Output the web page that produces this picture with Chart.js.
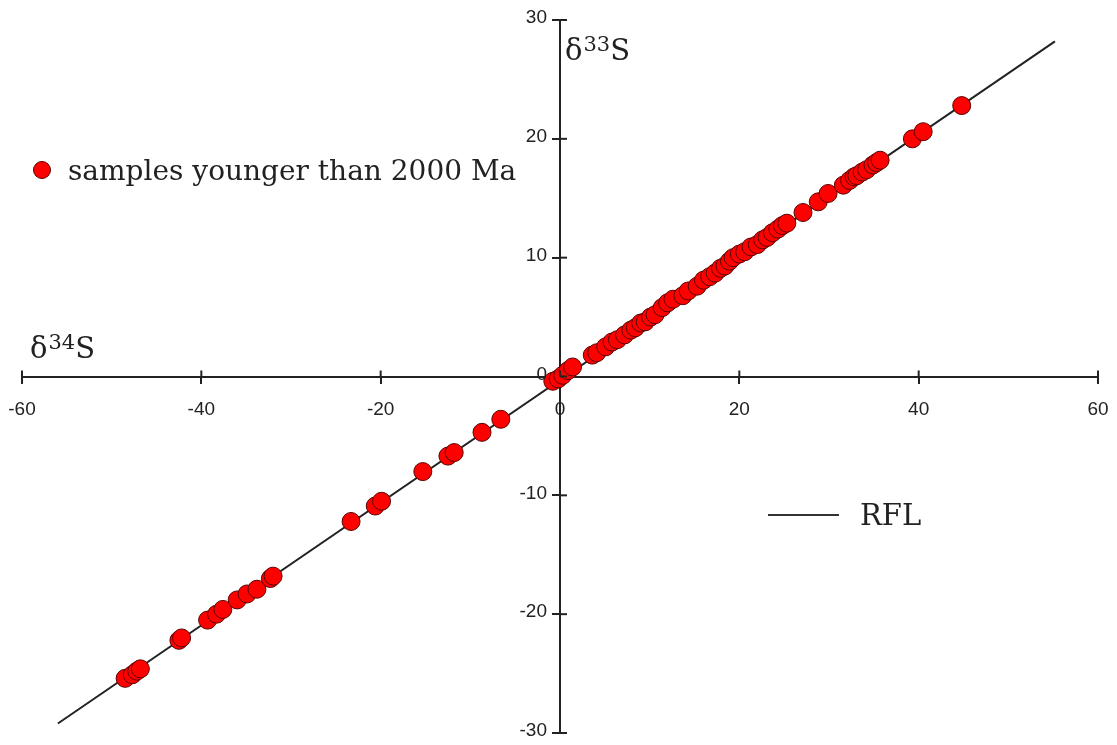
<!DOCTYPE html>
<html>
<head>
<meta charset="utf-8">
<script src="https://cdn.jsdelivr.net/npm/chart.js@4"></script>
<style>
  html, body { margin: 0; padding: 0; background: #fff; }
  #wrap { width: 1117px; height: 745px; position: relative; }
</style>
</head>
<body>
<div id="wrap"><canvas id="myChart"></canvas></div>
<script>
const xTicks = [-60, -40, -20, 0, 20, 40, 60];
const yTicks = [-30, -20, -10, 0, 10, 20, 30];

// δ34S / δ33S of samples younger than 2000 Ma
const sampleX = [
  -48.5, -47.7, -47.2, -46.8, -42.5, -42.2, -39.3, -38.3, -37.6, -36.0, -34.9, -33.8, -32.3, -32.0,
  -23.3, -20.6, -19.9, -15.3, -12.5, -11.8, -8.7, -6.6, -0.8, -0.2,
  0.3, 0.9, 1.4, 3.6, 4.1, 5.1, 5.8, 6.4, 7.2, 7.9, 8.4, 9.0, 9.5, 10.1, 10.6, 11.4, 12.0, 12.6,
  13.7, 14.3, 15.3, 16.0, 16.7, 17.3, 17.9, 18.4, 18.9, 19.3, 20.0, 20.6, 21.3, 22.0, 22.6, 23.1,
  23.7, 24.3, 24.8, 25.3, 27.1, 28.8, 29.9, 31.6, 32.3, 32.8, 33.1, 33.7, 34.2, 34.9, 35.3, 35.7,
  39.3, 40.5, 44.8
];
const sampleY = [
  -25.4, -25.1, -24.8, -24.6, -22.2, -22.0, -20.5, -20.0, -19.6, -18.8, -18.3, -17.9, -17.0, -16.8,
  -12.2, -10.9, -10.5, -8.0, -6.7, -6.4, -4.7, -3.6, -0.4, -0.2,
  0.1, 0.5, 0.8, 1.8, 2.0, 2.5, 2.9, 3.1, 3.5, 3.9, 4.1, 4.5, 4.6, 5.0, 5.2, 5.8, 6.2, 6.5,
  6.8, 7.2, 7.6, 8.1, 8.4, 8.7, 9.1, 9.3, 9.7, 10.0, 10.3, 10.5, 10.9, 11.1, 11.5, 11.7,
  12.1, 12.4, 12.7, 12.9, 13.8, 14.7, 15.4, 16.1, 16.5, 16.8, 16.9, 17.2, 17.4, 17.8, 18.0, 18.2,
  20.0, 20.6, 22.8
];
// reference fractionation line
const rflX = [-56.0, 55.2];
const rflY = [-29.2, 28.2];

const serif = "'DejaVu Serif', serif";
const tickFont = "'Liberation Sans', Arial, sans-serif";

// ticks that cross the axes, tick labels, legend and axis titles
const extras = {
  id: 'extras',
  afterDraw(chart) {
    const ctx = chart.ctx;
    const sx = chart.scales.x, sy = chart.scales.y;
    const x0 = sx.getPixelForValue(0), y0 = sy.getPixelForValue(0);
    ctx.save();
    ctx.strokeStyle = '#222';
    ctx.fillStyle = '#222';
    ctx.lineWidth = 2;
    ctx.font = '19px ' + tickFont;
    ctx.textBaseline = 'middle';

    ctx.textAlign = 'center';
    xTicks.forEach(v => {
      const px = sx.getPixelForValue(v);
      ctx.beginPath(); ctx.moveTo(px, y0); ctx.lineTo(px, y0 - 6); ctx.stroke();
      ctx.fillText(String(v), px, y0 + 33);
    });
    ctx.textAlign = 'right';
    yTicks.forEach(v => {
      const py = sy.getPixelForValue(v);
      ctx.beginPath(); ctx.moveTo(x0, py); ctx.lineTo(x0 + 7, py); ctx.stroke();
      ctx.fillText(String(v), x0 - 13, py - 2);
    });

    ctx.textBaseline = 'alphabetic';
    ctx.textAlign = 'left';
    // axis titles
    const title = (x, y, sup) => {
      ctx.font = '29px ' + serif;
      ctx.fillText('δ', x, y);
      let w = ctx.measureText('δ').width;
      ctx.font = '21px ' + serif;
      ctx.fillText(sup, x + w + 1, y - 9);
      w += ctx.measureText(sup).width + 1;
      ctx.font = '29px ' + serif;
      ctx.fillText('S', x + w, y);
    };
    title(30, 358, '34');
    title(565, 60, '33');

    // legend: samples
    ctx.beginPath();
    ctx.arc(42, 170, 8.5, 0, Math.PI * 2);
    ctx.fillStyle = '#ff0000';
    ctx.fill();
    ctx.lineWidth = 1;
    ctx.strokeStyle = '#5a0000';
    ctx.stroke();
    ctx.fillStyle = '#222';
    ctx.font = '28px ' + serif;
    ctx.fillText('samples younger than 2000 Ma', 68, 180);

    // legend: RFL
    ctx.strokeStyle = '#333';
    ctx.lineWidth = 2;
    ctx.beginPath(); ctx.moveTo(768, 515); ctx.lineTo(839, 515); ctx.stroke();
    ctx.font = '29px ' + serif;
    ctx.fillText('RFL', 860, 525);
    ctx.restore();
  }
};

new Chart(document.getElementById('myChart'), {
  type: 'scatter',
  data: {
    datasets: [
      {
        label: 'RFL',
        data: rflX.map((x, i) => ({ x: x, y: rflY[i] })),
        showLine: true,
        borderColor: '#222',
        borderWidth: 2,
        pointRadius: 0,
        order: 2
      },
      {
        label: 'samples younger than 2000 Ma',
        data: sampleX.map((x, i) => ({ x: x, y: sampleY[i] })),
        backgroundColor: '#ff0000',
        borderColor: '#5a0000',
        borderWidth: 1,
        pointRadius: 9,
        order: 1
      }
    ]
  },
  options: {
    responsive: true,
    maintainAspectRatio: false,
    animation: false,
    layout: { padding: { left: 22, right: 19, top: 20, bottom: 12 } },
    plugins: { legend: { display: false }, tooltip: { enabled: false } },
    scales: {
      x: {
        type: 'linear',
        position: { y: 0 },
        min: -60, max: 60,
        afterBuildTicks: s => { s.ticks = xTicks.map(v => ({ value: v })); },
        border: { color: '#222', width: 2 },
        grid: { drawOnChartArea: false, tickLength: 6, color: '#222', lineWidth: 2 },
        ticks: { display: false }
      },
      y: {
        type: 'linear',
        position: { x: 0 },
        min: -30, max: 30,
        afterBuildTicks: s => { s.ticks = yTicks.map(v => ({ value: v })); },
        border: { color: '#222', width: 2 },
        grid: { drawOnChartArea: false, tickLength: 7, color: '#222', lineWidth: 2 },
        ticks: { display: false }
      }
    }
  },
  plugins: [extras]
});
</script>
</body>
</html>
